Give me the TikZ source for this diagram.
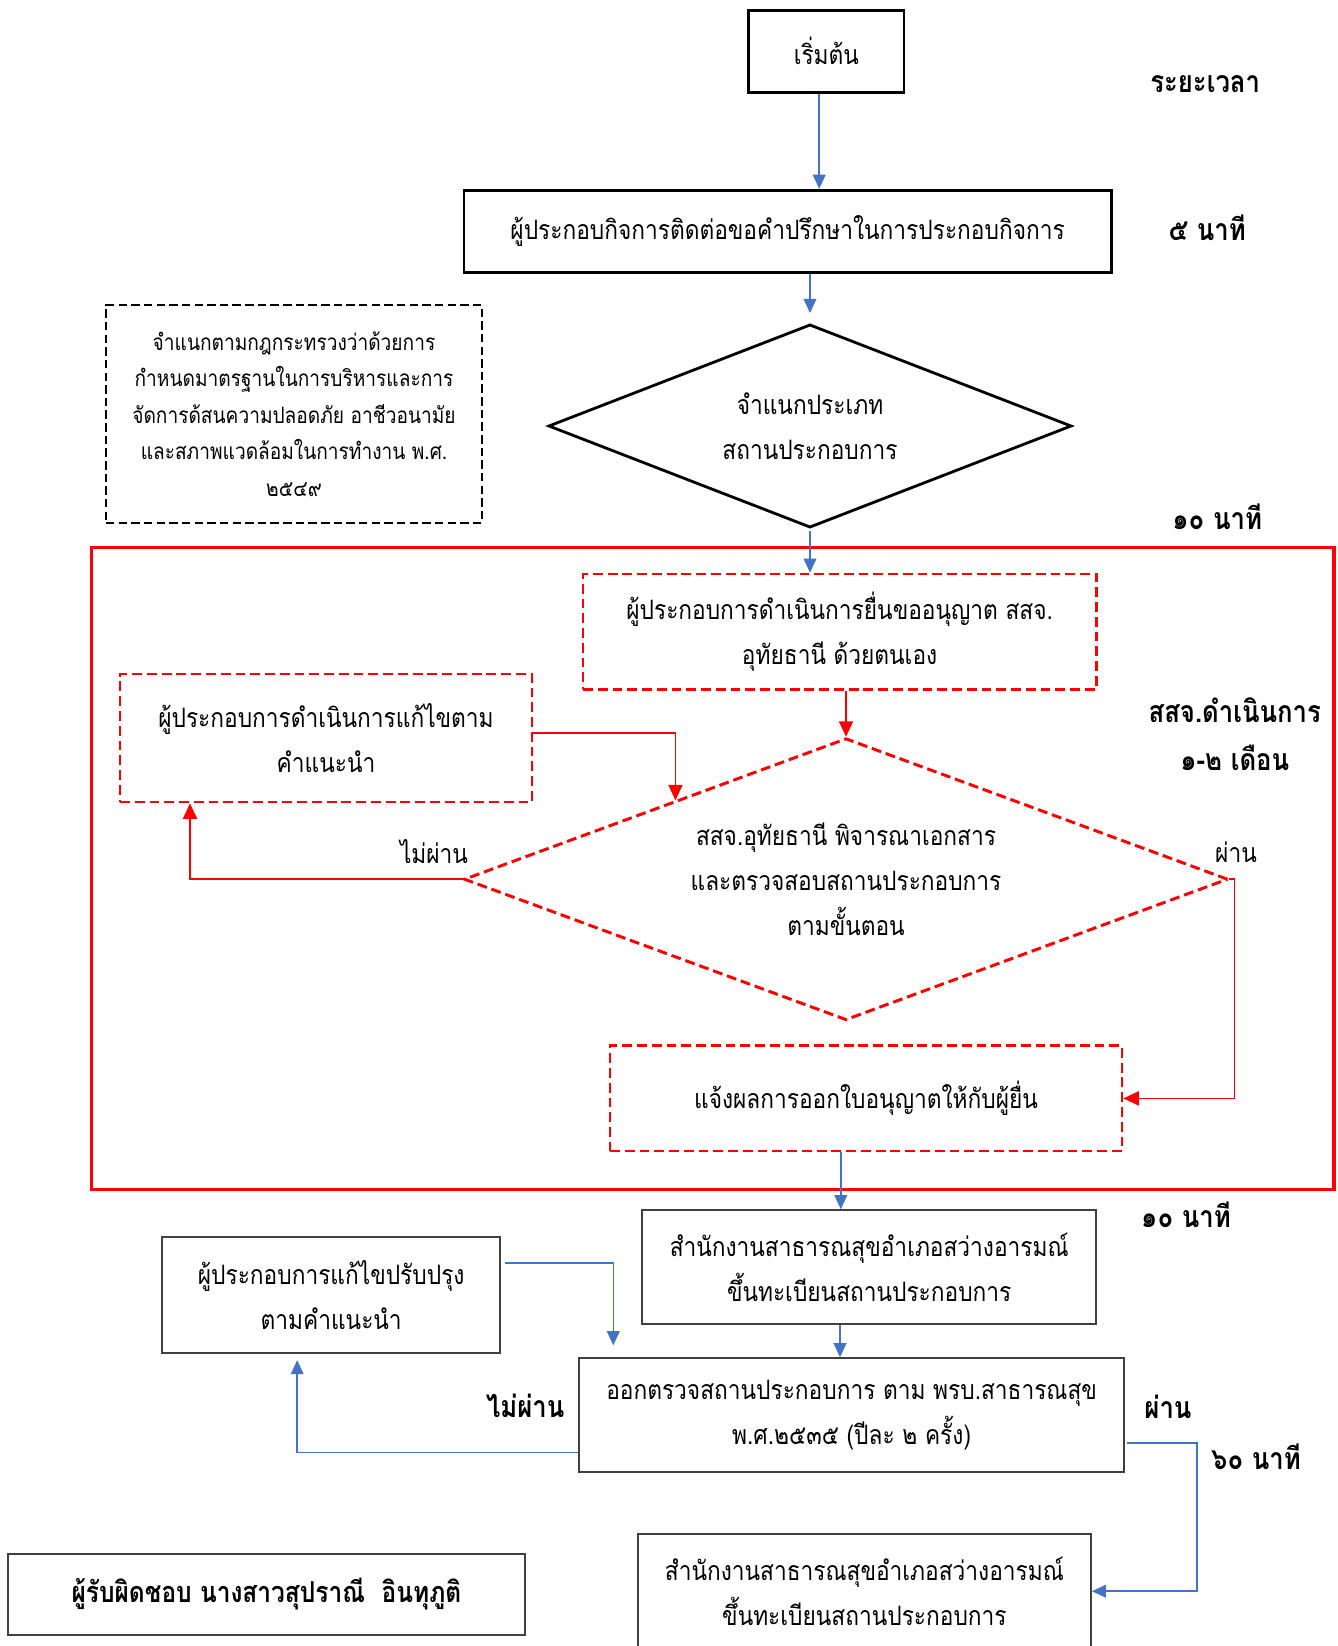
\documentclass[tikz,border=0pt]{standalone}
\usepackage{fontspec}
\setmainfont[Script=Thai, FakeStretch=0.85]{Loma}
\usetikzlibrary{shapes}
\usetikzlibrary{positioning}
\usetikzlibrary{arrows.meta}
\definecolor{officeblue}{RGB}{68,114,196}
\definecolor{boxgray}{RGB}{64,64,64}
\tikzset{
    stepbox/.style = {rectangle, draw=black, line width=2pt, align=center},
    graybox/.style = {rectangle, draw=boxgray, line width=1.3pt, align=center},
    notebox/.style = {rectangle, draw=black, line width=1.9pt, dash pattern=on 6pt off 3pt, align=center,
        font=\fontsize{16}{26}\selectfont},
    redbox/.style = {rectangle, draw=red, line width=1.9pt, dash pattern=on 7pt off 3.5pt, align=center},
    decision/.style = {diamond, aspect=2.6, inner sep=0pt, draw=black, line width=2pt, align=center},
    reddecision/.style = {diamond, aspect=2.6, inner sep=0pt, draw=red, line width=2.1pt,
        dash pattern=on 7pt off 3.5pt, align=center},
    timelabel/.style = {font=\bfseries\fontsize{21.5}{34}\selectfont, align=center},
    redframe/.style = {draw=red, line width=2.4pt},
    edgeb/.style = {-{Triangle[length=10pt,width=9pt]}, line width=1.1pt, officeblue},
    edger/.style = {-{Triangle[length=11pt,width=10pt]}, line width=1.1pt, red}
}
\begin{document}
\begin{tikzpicture}[font=\fontsize{19}{32}\selectfont]
  \useasboundingbox (0,0) rectangle (33.45,-41.15);

  % top part
  \node[stepbox, minimum width=3.88cm, minimum height=2.05cm] at (20.66,-1.28) (start) {เริ่มต้น};
  \node[stepbox, minimum width=16.18cm, minimum height=2.05cm] at (19.69,-5.78) (consult) {ผู้ประกอบกิจการติดต่อขอคำปรึกษาในการประกอบกิจการ};
  \node[decision, minimum width=13.08cm, minimum height=5.08cm] at (20.25,-10.65) (classify) {จำแนกประเภท\\สถานประกอบการ};
  \node[notebox, minimum width=9.40cm, minimum height=5.45cm] at (7.35,-10.35) (law) {จำแนกตามกฎกระทรวงว่าด้วยการ\\กำหนดมาตรฐานในการบริหารและการ\\จัดการด้สนความปลอดภัย อาชีวอนามัย\\และสภาพแวดล้อมในการทำงาน พ.ศ.\\๒๕๔๙};

  \node[timelabel] at (30.13,-2.10) (thead) {ระยะเวลา};
  \node[timelabel] at (30.18,-5.70) (tconsult) {๕ นาที};
  \node[timelabel] at (30.43,-12.93) (tclassify) {๑๐ นาที};

  % provincial office part
  \draw[redframe] (2.28,-13.68) rectangle (33.35,-29.73);
  \node[redbox, minimum width=12.83cm, minimum height=2.88cm] at (20.99,-15.79) (apply) {ผู้ประกอบการดำเนินการยื่นขออนุญาต สสจ.\\อุทัยธานี ด้วยตนเอง};
  \node[redbox, minimum width=10.30cm, minimum height=3.20cm] at (8.15,-18.45) (revise) {ผู้ประกอบการดำเนินการแก้ไขตาม\\คำแนะนำ};
  \node[reddecision, minimum width=19.10cm, minimum height=7.05cm] at (21.15,-21.98) (review) {สสจ.อุทัยธานี พิจารณาเอกสาร\\และตรวจสอบสถานประกอบการ\\ตามขั้นตอน};
  \node[redbox, minimum width=12.80cm, minimum height=2.63cm] at (21.65,-27.46) (notify) {แจ้งผลการออกใบอนุญาตให้กับผู้ยื่น};
  \node at (10.85,-21.30) (reviewno) {ไม่ผ่าน};
  \node at (30.90,-21.30) (reviewyes) {ผ่าน};
  \node[timelabel] at (30.87,-18.35) (treview) {สสจ.ดำเนินการ\\๑-๒ เดือน};

  % district office part
  \node[graybox, minimum width=11.35cm, minimum height=2.85cm] at (21.73,-31.68) (register) {สำนักงานสาธารณสุขอำเภอสว่างอารมณ์\\ขึ้นทะเบียนสถานประกอบการ};
  \node[graybox, minimum width=8.45cm, minimum height=2.90cm] at (8.28,-32.38) (improve) {ผู้ประกอบการแก้ไขปรับปรุง\\ตามคำแนะนำ};
  \node[graybox, minimum width=13.63cm, minimum height=2.85cm] at (21.29,-35.38) (inspect) {ออกตรวจสถานประกอบการ ตาม พรบ.สาธารณสุข\\พ.ศ.๒๕๓๕ (ปีละ ๒ ครั้ง)};
  \node[graybox, minimum width=11.33cm, minimum height=2.85cm] at (21.61,-39.78) (registerb) {สำนักงานสาธารณสุขอำเภอสว่างอารมณ์\\ขึ้นทะเบียนสถานประกอบการ};
  \node[graybox, minimum width=12.93cm, minimum height=2.03cm, font=\bfseries\fontsize{20.5}{32}\selectfont] at (6.66,-39.86) (owner) {ผู้รับผิดชอบ นางสาวสุปราณี\ \ อินทุภูติ};

  \node[timelabel] at (29.65,-30.38) (tregister) {๑๐ นาที};
  \node[timelabel] at (13.13,-35.15) (inspectno) {ไม่ผ่าน};
  \node[timelabel] at (29.20,-35.18) (inspectyes) {ผ่าน};
  \node[timelabel] at (31.40,-36.43) (tinspect) {๖๐ นาที};

  % connectors
  \draw[edgeb] ([xshift=-0.18cm]start.south) -- ([xshift=-0.18cm]start.south |- consult.north);
  \draw[edgeb, shorten >=0.25cm] (classify.north |- consult.south) -- (classify.north);
  \draw[edgeb, shorten <=0.05cm] (classify.south) -- (classify.south |- apply.north);
  \draw[edger] (review.north |- apply.south) -- (review.north);
  \draw[edger] ([yshift=0.12cm]revise.east) -| ([xshift=0.53cm,yshift=0.19cm]review.north west);
  \draw[edger] (review.west) -| ([xshift=-3.4cm]revise.south);
  \draw[edger] (review.east) -- ++(0.13,0) |- (notify.east);
  \draw[edgeb] ([xshift=-0.63cm]notify.south) -- ([xshift=-0.63cm]notify.south |- register.north);
  \draw[edgeb] ([xshift=-0.73cm]register.south) -- ([xshift=-0.73cm]register.south |- inspect.north);
  \draw[edgeb] ([xshift=0.1cm,yshift=0.8cm]improve.east) -| ([xshift=0.88cm,yshift=0.3cm]inspect.north west);
  \draw[edgeb] ([yshift=-0.93cm]inspect.west) -| ([xshift=-0.85cm,yshift=-0.15cm]improve.south);
  \draw[edgeb] ([xshift=0.05cm,yshift=-0.7cm]inspect.east) -- ++(1.75,0) |- (registerb.east);

\end{tikzpicture}
\end{document}
